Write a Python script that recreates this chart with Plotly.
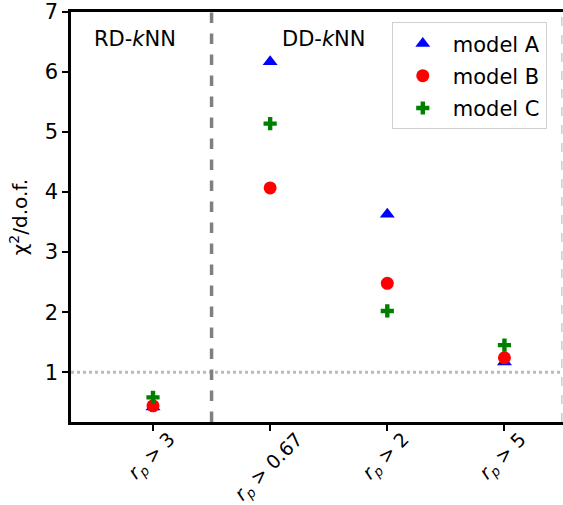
import plotly.graph_objects as go

categories = ["<i>r</i><sub><i>p</i></sub> > 3", "<i>r</i><sub><i>p</i></sub> > 0.67",
              "<i>r</i><sub><i>p</i></sub> > 2", "<i>r</i><sub><i>p</i></sub> > 5"]
x_pos = [0, 1, 2, 3]
model_a = [0.42, 6.17, 3.63, 1.17]
model_b = [0.44, 4.07, 2.48, 1.24]
model_c = [0.58, 5.14, 2.02, 1.45]
y_ticks = [1, 2, 3, 4, 5, 6, 7]

FONT = "DejaVu Sans"

fig = go.Figure()
fig.add_trace(go.Scatter(x=x_pos, y=model_a, mode="markers", name="model A", legendgroup="a",
                         marker=dict(symbol="triangle-up", size=13, color="blue")))
fig.add_trace(go.Scatter(x=x_pos, y=model_b, mode="markers", name="model B", legendgroup="b",
                         marker=dict(symbol="circle", size=13, color="red")))
fig.add_trace(go.Scatter(x=x_pos, y=model_c, mode="markers", name="model C", legendgroup="c",
                         marker=dict(symbol="cross", size=11, color="green")))

# reference lines
fig.add_hline(y=1, line=dict(color="#bbbbbb", width=3, dash="dot"), layer="below")
fig.add_vline(x=0.5, line=dict(color="gray", width=3.5, dash="dash"), layer="below")
fig.add_vline(x=3.49, line=dict(color="#cccccc", width=1.5, dash="dash"), layer="below")

fig.add_annotation(x=-0.15, y=6.55, xref="x", yref="y", text="RD-<i>k</i>NN", showarrow=False,
                   font=dict(size=21, color="black", family=FONT), xanchor="center")
fig.add_annotation(x=1.46, y=6.55, xref="x", yref="y", text="DD-<i>k</i>NN", showarrow=False,
                   font=dict(size=21, color="black", family=FONT), xanchor="center")

# rotated, centred category labels (matplotlib-style rotation=45, ha='center')
for xv, lab in zip(x_pos, categories):
    fig.add_annotation(x=xv, y=0, xref="x", yref="paper", text=lab, showarrow=False,
                       textangle=-45, xanchor="center", yanchor="top", xshift=-1, yshift=-3,
                       font=dict(size=19, color="black", family=FONT))

fig.update_layout(
    width=563, height=505,
    margin=dict(l=71, r=0, t=12, b=83),
    plot_bgcolor="white", paper_bgcolor="white",
    font=dict(family=FONT, size=21, color="black"),
    showlegend=True,
    legend=dict(x=0.652, y=0.975, xanchor="left", yanchor="top",
                bordercolor="#d0d0d0", borderwidth=1, bgcolor="white",
                itemwidth=50, tracegroupgap=2,
                font=dict(size=21, family=FONT)),
    xaxis=dict(range=[-0.7, 3.5], tickmode="array", tickvals=x_pos, showticklabels=False,
               showline=True, linecolor="black", linewidth=2.5, mirror=True,
               ticks="outside", ticklen=6, tickwidth=1.5, tickcolor="black", automargin=False,
               showgrid=False, zeroline=False),
    yaxis=dict(range=[0.17, 7], tickmode="array", tickvals=y_ticks, automargin=False,
               showline=True, linecolor="black", linewidth=2.5, mirror=False,
               ticks="outside", ticklen=6, tickwidth=1.5, tickcolor="black",
               showgrid=False, zeroline=False, tickfont=dict(size=21),
               title=dict(text="χ<sup>2</sup>/d.o.f.", font=dict(size=20), standoff=12)),
)

fig.write_html("out.html")
